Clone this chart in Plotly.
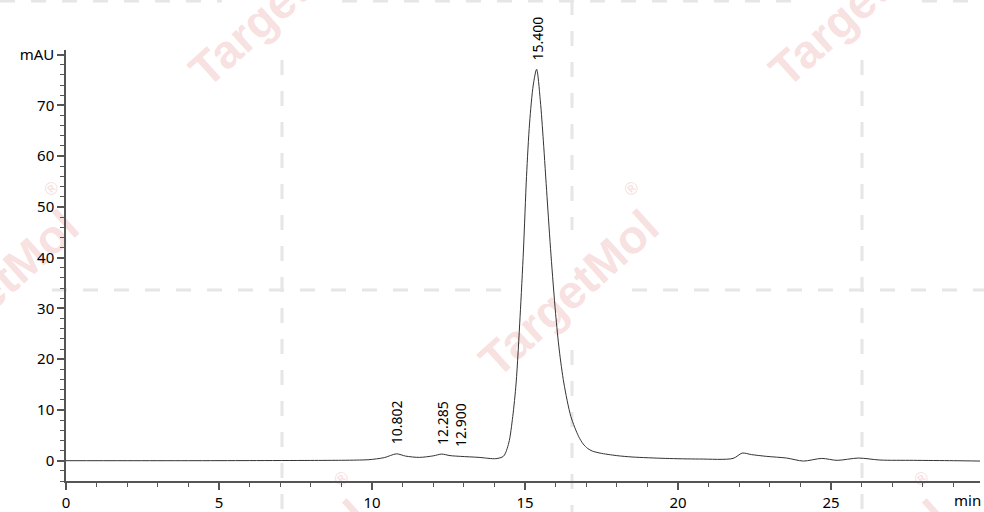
import plotly.graph_objects as go

# chromatogram trace (min, mAU)
time_min = [0, 2, 4, 6, 8, 9, 9.5, 9.9, 10.4, 10.8, 11.1, 11.55, 12.0, 12.28,
            12.55, 12.9, 13.5, 14.05, 14.3, 14.47, 14.6, 14.71, 14.84, 14.95,
            15.05, 15.15, 15.27, 15.38, 15.5, 15.6, 15.72, 15.85, 16.0, 16.12,
            16.27, 16.5, 16.75, 16.9, 17.05, 17.2, 17.45, 18.0, 18.5, 19.6,
            20.7, 21.8, 22.1, 22.4, 22.9, 23.55, 24.1, 24.7, 25.2, 25.9, 26.6,
            27.7, 29.0, 29.87]
signal_mau = [0, 0, 0, 0.02, 0.05, 0.08, 0.12, 0.2, 0.6, 1.35, 0.9, 0.65, 0.95,
              1.3, 1.0, 0.85, 0.65, 0.4, 0.9, 3.5, 8.7, 15.3, 28.4, 41.5, 56,
              66.5, 74, 77.1, 71, 63, 52, 40.5, 29, 21.8, 15.3, 8.7, 4.8, 3.3,
              2.4, 1.9, 1.5, 1.0, 0.73, 0.45, 0.33, 0.45, 1.5, 1.2, 0.85, 0.52,
              -0.07, 0.45, 0.07, 0.52, 0.13, 0.07, 0.0, -0.07]

peak_times = [10.802, 12.285, 12.900, 15.400]
peak_heights = [1.35, 1.3, 0.85, 77.1]
peak_labels = ["10.802", "12.285", "12.900", "15.400"]

y_tickvals = [0, 10, 20, 30, 40, 50, 60, 70, 80]
y_ticktext = ["0", "10", "20", "30", "40", "50", "60", "70", "mAU"]
x_tickvals = [0, 5, 10, 15, 20, 25]

W, H = 984, 512
ML, MR, MT, MB = 66, 4, 50, 31
PW, PH = W - ML - MR, H - MT - MB


def px(xp, yp):
    # pixel position -> paper coords
    return (xp - ML) / PW, (H - MB - yp) / PH


fig = go.Figure()
fig.add_trace(go.Scatter(
    x=time_min, y=signal_mau, mode="lines",
    line=dict(color="#333333", width=1, shape="spline", smoothing=0.8),
    hoverinfo="x+y"
))

# watermark: dashed cross lines with gaps around each logo
dash_col = "#e6e6e6"
segs = [
    ((282, 60), (282, 520)), ((572, 0), (572, 230)), ((572, 350), (572, 512)),
    ((862, 60), (862, 520)),
    ((0, 1), (222, 1)), ((342, 1), (802, 1)), ((922, 1), (984, 1)),
    ((52, 290), (512, 290)), ((632, 290), (984, 290)),
]
shapes = []
for (x0, y0), (x1, y1) in segs:
    a0, b0 = px(x0, y0)
    a1, b1 = px(x1, y1)
    shapes.append(dict(type="line", xref="paper", yref="paper", x0=a0, y0=b0,
                       x1=a1, y1=b1, layer="below",
                       line=dict(color=dash_col, width=3, dash="15px,16px")))


def wm_label(cx, cy, text, size):
    # invisible tiny rect carrying a rotated label (shapes are not pushed on-screen)
    a0, b0 = px(cx - 1, cy + 1)
    a1, b1 = px(cx + 1, cy - 1)
    return dict(type="rect", xref="paper", yref="paper", x0=a0, y0=b0, x1=a1, y1=b1,
                layer="below", line=dict(width=0), fillcolor="rgba(0,0,0,0)",
                label=dict(text=text, textangle=-42, textposition="middle center",
                           font=dict(family="Liberation Sans", size=size,
                                     color="rgba(226,120,120,0.24)", weight="bold")))


for cx, cy in [(282, 0), (862, 0), (-8, 290), (572, 290), (282, 580), (862, 580)]:
    shapes.append(wm_label(cx - 6, cy, "TargetMol", 47))
    shapes.append(wm_label(cx + 58, cy - 103, "®", 18))

annotations = []
for t, h, lab in zip(peak_times, peak_heights, peak_labels):
    annotations.append(dict(x=t, y=h, text=lab, showarrow=False, textangle=-90,
                            yanchor="bottom", xanchor="center", yshift=7,
                            font=dict(family="Noto Sans", size=14, color="black")))

mx, my = px(967, 500)
annotations.append(dict(x=mx, y=my, xref="paper", yref="paper", text="min",
                        showarrow=False, xanchor="center", yanchor="middle",
                        font=dict(family="Noto Sans", size=15, color="black")))

axis_col = "#555555"
fig.update_layout(
    width=W, height=H,
    margin=dict(l=ML, r=MR, t=MT, b=MB, autoexpand=False),
    paper_bgcolor="white", plot_bgcolor="rgba(0,0,0,0)",
    showlegend=False,
    shapes=shapes, annotations=annotations,
    font=dict(family="Noto Sans", size=15, color="black"),
    xaxis=dict(range=[0, 29.87], tickvals=x_tickvals, showgrid=False, zeroline=False,
               automargin=False,
               showline=True, linecolor=axis_col, linewidth=1.5,
               ticks="outside", ticklen=7, tickcolor=axis_col, tickwidth=1.5,
               minor=dict(tickmode="linear", tick0=0, dtick=1, ticks="outside",
                          ticklen=4, tickcolor=axis_col, tickwidth=1.2, showgrid=False)),
    yaxis=dict(range=[-4, 80.9], tickvals=y_tickvals, ticktext=y_ticktext,
               showgrid=False, zeroline=False, automargin=False,
               showline=True, linecolor=axis_col, linewidth=1.5,
               ticks="outside", ticklen=7, tickcolor=axis_col, tickwidth=1.5,
               minor=dict(tickmode="linear", tick0=0, dtick=2, ticks="outside",
                          ticklen=4, tickcolor=axis_col, tickwidth=1.2, showgrid=False)),
)

# page body has a default 8px margin; drop it so the figure fills the window
fig.write_html("out.html", config={"displayModeBar": False},
               post_script="document.body.style.margin='0';document.body.style.overflow='hidden';")
